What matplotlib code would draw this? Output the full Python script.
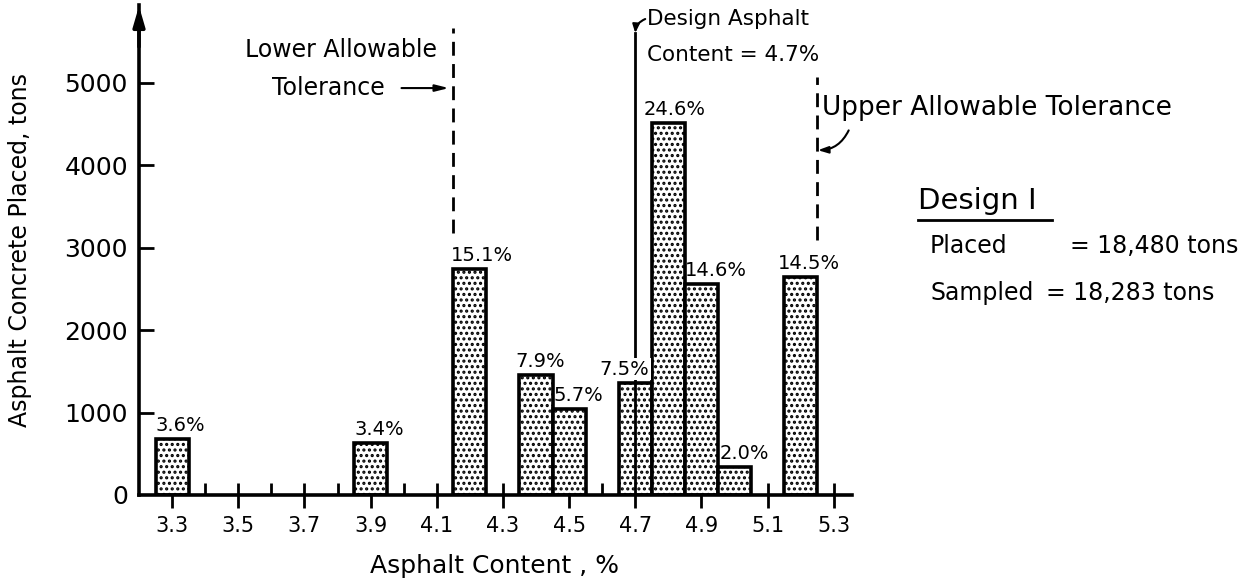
import matplotlib.pyplot as plt
from matplotlib.lines import Line2D

# asphalt content (%) vs tons placed
content = [3.3, 3.9, 4.2, 4.4, 4.5, 4.7, 4.8, 4.9, 5.0, 5.2]
tons = [680, 630, 2740, 1450, 1040, 1360, 4510, 2560, 340, 2640]
pct_labels = ['3.6%', '3.4%', '15.1%', '7.9%', '5.7%', '7.5%', '24.6%', '14.6%', '2.0%', '14.5%']
x_ticks = [3.3, 3.5, 3.7, 3.9, 4.1, 4.3, 4.5, 4.7, 4.9, 5.1, 5.3]
x_ticklabels = ['3.3', '3.5', '3.7', '3.9', '4.1', '4.3', '4.5', '4.7', '4.9', '5.1', '5.3']
y_ticks = [0, 1000, 2000, 3000, 4000, 5000]

design_content = 4.7
lower_tol = 4.15
upper_tol = 5.25

plt.rcParams['font.family'] = ['DejaVu Sans']
plt.rcParams['hatch.linewidth'] = 1.5

fig = plt.figure(figsize=(12.57, 5.86), dpi=100)
ax = fig.add_axes([139 / 1257, 1 - 495 / 586, (852 - 139) / 1257, (495 - 5) / 586])

ax.bar(content, tons, width=0.1, color='white', edgecolor='black',
       linewidth=2.6, hatch='...', zorder=2)

# percentage labels above bars (nudged in pixels where the original shifts them)
nudge = [0, 0, -2, -4, 1, -19, -8, 0, 2, -6]
for x, h, lab, dx in zip(content, tons, pct_labels, nudge):
    t = ax.annotate(lab, (x - 0.05, h), xytext=(dx * 0.72, 3), textcoords='offset points',
                    ha='left', va='bottom', fontsize=14, zorder=5)
    if lab == '7.5%':
        t.set_bbox(dict(facecolor='white', edgecolor='none', pad=1))

ax.set_xlim(3.2, 5.355)
ax.set_ylim(0, 5940)

for s in ['top', 'right']:
    ax.spines[s].set_visible(False)
ax.spines['left'].set_linewidth(2.6)
ax.spines['bottom'].set_linewidth(2.6)

ax.set_xticks(x_ticks)
ax.set_xticklabels(x_ticklabels, fontsize=15)
ax.set_xticks([3.4, 3.6, 3.8, 4.0, 4.2, 4.4, 4.6, 4.8, 5.0, 5.2], minor=True)
ax.tick_params(axis='x', which='major', direction='inout', length=18, width=2, pad=6)
ax.tick_params(axis='x', which='minor', direction='in', length=9, width=2)
ax.set_yticks(y_ticks)
ax.set_yticklabels(['0', '1000', '2000', '3000', '4000', '5000'], fontsize=18)
ax.tick_params(axis='y', direction='in', length=11, width=2, pad=8)
ax.yaxis.get_major_ticks()[0].tick1line.set_visible(False)

# arrow on top of y axis
ax.annotate('', xy=(3.2, 5960), xytext=(3.2, 5400),
            arrowprops=dict(arrowstyle='-|>,head_length=1.2,head_width=0.35',
                            color='black', lw=2.6), annotation_clip=False)

# design and tolerance lines
ax.plot([design_content, design_content], [0, 5600], color='black', lw=2, zorder=3)
ax.plot([lower_tol, lower_tol], [3180, 5660], color='black', lw=2,
        linestyle=(0, (5, 3)), zorder=3)
ax.plot([upper_tol, upper_tol], [3090, 5070], color='black', lw=2,
        linestyle=(0, (5, 3)), zorder=3)

ax.text(4.10, 5394, 'Lower Allowable', ha='right', va='center', fontsize=17)
ax.text(3.943, 4933, 'Tolerance', ha='right', va='center', fontsize=17)
ax.annotate('', xy=(4.145, 4933), xytext=(3.985, 4933),
            arrowprops=dict(arrowstyle='-|>,head_length=0.8,head_width=0.2',
                            color='black', lw=1.5))

ax.text(4.735, 5770, 'Design Asphalt', ha='left', va='center', fontsize=15.5)
ax.text(4.735, 5333, 'Content = 4.7%', ha='left', va='center', fontsize=15.5)
ax.annotate('', xy=(4.70, 5600), xytext=(4.73, 5770),
            arrowprops=dict(arrowstyle='-|>,head_length=0.5,head_width=0.2',
                            color='black', lw=1.5, shrinkA=0, shrinkB=0,
                            connectionstyle='arc3,rad=0.3'), annotation_clip=False)

ax.text(5.263, 4690, 'Upper Allowable Tolerance', ha='left', va='center', fontsize=19)
ax.annotate('', xy=(5.252, 4180), xytext=(5.345, 4420),
            arrowprops=dict(arrowstyle='-|>,head_length=0.6,head_width=0.2',
                            color='black', lw=1.5, shrinkA=0, shrinkB=0,
                            connectionstyle='arc3,rad=-0.3'), annotation_clip=False)

# right-hand summary block
fig.text(918 / 1257, 1 - 201 / 586, 'Design I', ha='left', va='center', fontsize=21)
fig.add_artist(Line2D([918 / 1257, 1052 / 1257], [1 - 220 / 586, 1 - 220 / 586],
                      color='black', lw=2))
fig.text(930 / 1257, 1 - 246 / 586, 'Placed', ha='left', va='center', fontsize=17)
fig.text(1238 / 1257, 1 - 246 / 586, '= 18,480 tons', ha='right', va='center', fontsize=17)
fig.text(930 / 1257, 1 - 293 / 586, 'Sampled', ha='left', va='center', fontsize=17)
fig.text(1046 / 1257, 1 - 293 / 586, '= 18,283 tons', ha='left', va='center', fontsize=17)

fig.text(20 / 1257, 1 - 250 / 586, 'Asphalt Concrete Placed, tons', rotation=90,
         ha='center', va='center', fontsize=17)
fig.text(494 / 1257, 1 - 566 / 586, 'Asphalt Content , %', ha='center', va='center',
         fontsize=18)

fig.savefig('out.png', dpi=100)
